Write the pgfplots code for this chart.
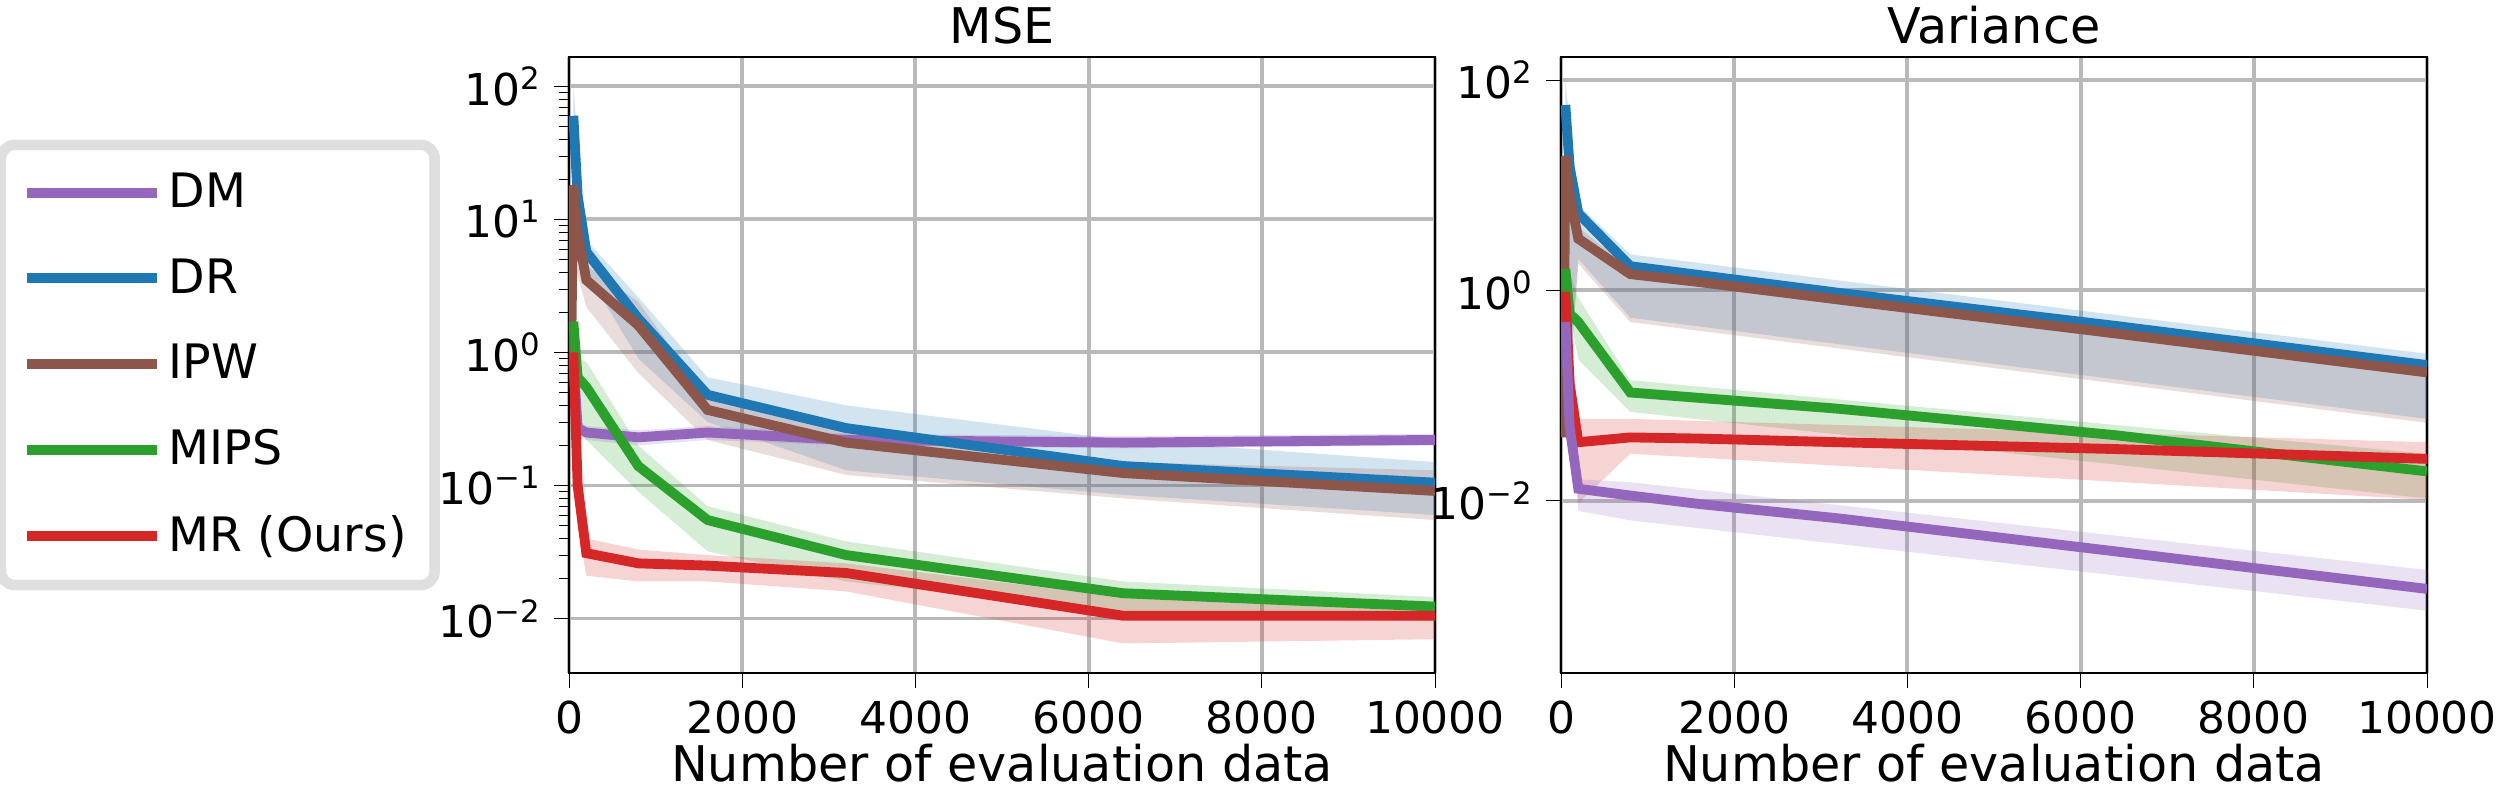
\documentclass[border=0pt]{standalone}
\usepackage{fontspec}
\setmainfont{DejaVu Sans}
\usepackage{pgfplots}
\pgfplotsset{compat=1.18}
\definecolor{cDM}{HTML}{9467BD}
\definecolor{cDR}{HTML}{1F77B4}
\definecolor{cIPW}{HTML}{8C564B}
\definecolor{cMIPS}{HTML}{2CA02C}
\definecolor{cMR}{HTML}{D62728}
\begin{document}
\begin{tikzpicture}
\pgfplotsset{
  every axis/.append style={
    scale only axis, width=8.66cm, height=6.16cm,
    ymode=log, xmin=0, xmax=10000,
    xtick={0,2000,4000,6000,8000,10000},
    xticklabels={0,2000,4000,6000,8000,10000},
    scaled x ticks=false,
    tick align=outside, tick pos=left,
    grid=major, major grid style={gray!55, line width=1.1pt},
    tick label style={font=\fontsize{12.5}{15}\selectfont},
    label style={font=\fontsize{14}{17}\selectfont},
    title style={font=\fontsize{14}{17}\selectfont, yshift=-6pt},
    xlabel={Number of evaluation data},
    xlabel style={yshift=4pt},
    axis line style={line width=0.6pt},
    tick style={black},
  },
  ln/.style={line width=2.8pt},
  bd/.style={draw=none, fill opacity=0.2, forget plot},
}
\begin{axis}[title={MSE}, ymin=0.0039, ymax=166,
  ytick={0.01,0.1,1,10,100},
  yticklabels={10\textsuperscript{−2},10\textsuperscript{−1},10\textsuperscript{0},10\textsuperscript{1},10\textsuperscript{2}},
  legend style={at={(-0.149,0.5)}, anchor=east, draw=gray!25, line width=3pt, rounded corners=4pt,
    font=\fontsize{13.5}{16}\selectfont, inner sep=6pt, row sep=9pt, cells={anchor=west}},
  legend cell align=left,
  legend image post style={line width=2.8pt},
  legend image code/.code={\draw[#1] (0cm,0cm) -- (1.3cm,0cm);},
]
\addplot[bd, fill=cDR] coordinates {(50,100)(200,7)(800,2.6)(1600,0.65)(3200,0.4)(6400,0.22)(10000,0.15)(10000,0.06)(6400,0.085)(3200,0.13)(1600,0.3)(800,0.9)(200,4)(50,30)} -- cycle;
\addplot[bd, fill=cIPW] coordinates {(50,25)(200,4.5)(800,2.4)(1600,0.45)(3200,0.25)(6400,0.15)(10000,0.13)(10000,0.055)(6400,0.08)(3200,0.12)(1600,0.22)(800,0.7)(200,2.2)(50,5)} -- cycle;
\addplot[bd, fill=cDM] coordinates {(50,1)(100,0.31)(200,0.28)(800,0.26)(1600,0.28)(3200,0.245)(6400,0.235)(10000,0.245)(10000,0.2)(6400,0.19)(3200,0.2)(1600,0.22)(800,0.2)(200,0.22)(100,0.23)(50,0.8)} -- cycle;
\addplot[bd, fill=cMIPS] coordinates {(50,2)(100,0.9)(200,0.85)(800,0.2)(1600,0.07)(3200,0.038)(6400,0.019)(10000,0.0145)(10000,0.0095)(6400,0.011)(3200,0.019)(1600,0.032)(800,0.09)(200,0.22)(100,0.3)(50,1.2)} -- cycle;
\addplot[bd, fill=cMR] coordinates {(50,1.1)(100,0.2)(200,0.04)(800,0.033)(1600,0.03)(3200,0.026)(6400,0.0145)(10000,0.013)(10000,0.007)(6400,0.0065)(3200,0.016)(1600,0.019)(800,0.019)(200,0.021)(100,0.05)(50,0.15)} -- cycle;
\addplot[ln, cDM] coordinates {(50,0.9)(100,0.27)(200,0.25)(800,0.23)(1600,0.25)(3200,0.22)(6400,0.21)(10000,0.22)};
\addlegendentry{DM}
\addplot[ln, cDR] coordinates {(50,60)(100,15)(200,5.7)(800,1.8)(1600,0.48)(3200,0.27)(6400,0.14)(10000,0.105)};
\addlegendentry{DR}
\addplot[ln, cIPW] coordinates {(25,1)(50,18)(100,8)(200,3.5)(800,1.6)(1600,0.37)(3200,0.21)(6400,0.124)(10000,0.091)};
\addlegendentry{IPW}
\addplot[ln, cMIPS] coordinates {(50,1.7)(100,0.65)(200,0.55)(800,0.14)(1600,0.055)(3200,0.03)(6400,0.0155)(10000,0.0123)};
\addlegendentry{MIPS}
\addplot[ln, cMR] coordinates {(50,1.0)(100,0.1)(200,0.031)(800,0.026)(1600,0.025)(3200,0.022)(6400,0.0105)(10000,0.0105)};
\addlegendentry{MR (Ours)}
\end{axis}
\begin{axis}[at={(9.92cm,0)}, title={Variance}, ymin=0.00023, ymax=166,
  ytick={0.01,1,100},
  yticklabels={10\textsuperscript{−2},10\textsuperscript{0},10\textsuperscript{2}},
  minor ytick={},
]
\addplot[bd, fill=cDR] coordinates {(50,100)(200,6.5)(800,2.2)(10000,0.25)(10000,0.06)(800,0.55)(200,2.0)(50,0.04)} -- cycle;
\addplot[bd, fill=cIPW] coordinates {(50,22)(200,4)(800,1.6)(10000,0.19)(10000,0.055)(800,0.5)(200,1.8)(50,0.04)} -- cycle;
\addplot[bd, fill=cMIPS] coordinates {(50,2)(200,0.85)(800,0.14)(10000,0.028)(10000,0.0105)(800,0.07)(200,0.22)(50,1.0)} -- cycle;
\addplot[bd, fill=cMR] coordinates {(50,1.1)(200,0.06)(800,0.06)(10000,0.036)(10000,0.0102)(800,0.028)(200,0.0095)(50,0.3)} -- cycle;
\addplot[bd, fill=cDM] coordinates {(50,0.8)(200,0.016)(800,0.015)(10000,0.0022)(10000,0.0009)(800,0.0065)(200,0.008)(50,0.3)} -- cycle;
\addplot[ln, cDR] coordinates {(50,58)(100,15)(200,5.4)(800,1.7)(1600,1.4)(3200,0.95)(6400,0.46)(10000,0.195)};
\addplot[ln, cIPW] coordinates {(25,0.04)(50,19)(100,8)(200,3.1)(800,1.43)(1600,1.2)(3200,0.82)(6400,0.39)(10000,0.166)};
\addplot[ln, cMIPS] coordinates {(50,1.6)(100,0.6)(200,0.5)(800,0.107)(1600,0.095)(3200,0.075)(6400,0.042)(10000,0.019)};
\addplot[ln, cMR] coordinates {(50,0.97)(100,0.13)(200,0.036)(800,0.040)(1600,0.039)(3200,0.036)(6400,0.031)(10000,0.025)};
\addplot[ln, cDM] coordinates {(50,0.5)(100,0.05)(200,0.013)(800,0.0112)(1600,0.0093)(3200,0.0068)(6400,0.0033)(10000,0.00145)};
\end{axis}
\pgfresetboundingbox
\path (-5.69cm,-1.16cm) rectangle (19.38cm,6.73cm);
\end{tikzpicture}
\end{document}
